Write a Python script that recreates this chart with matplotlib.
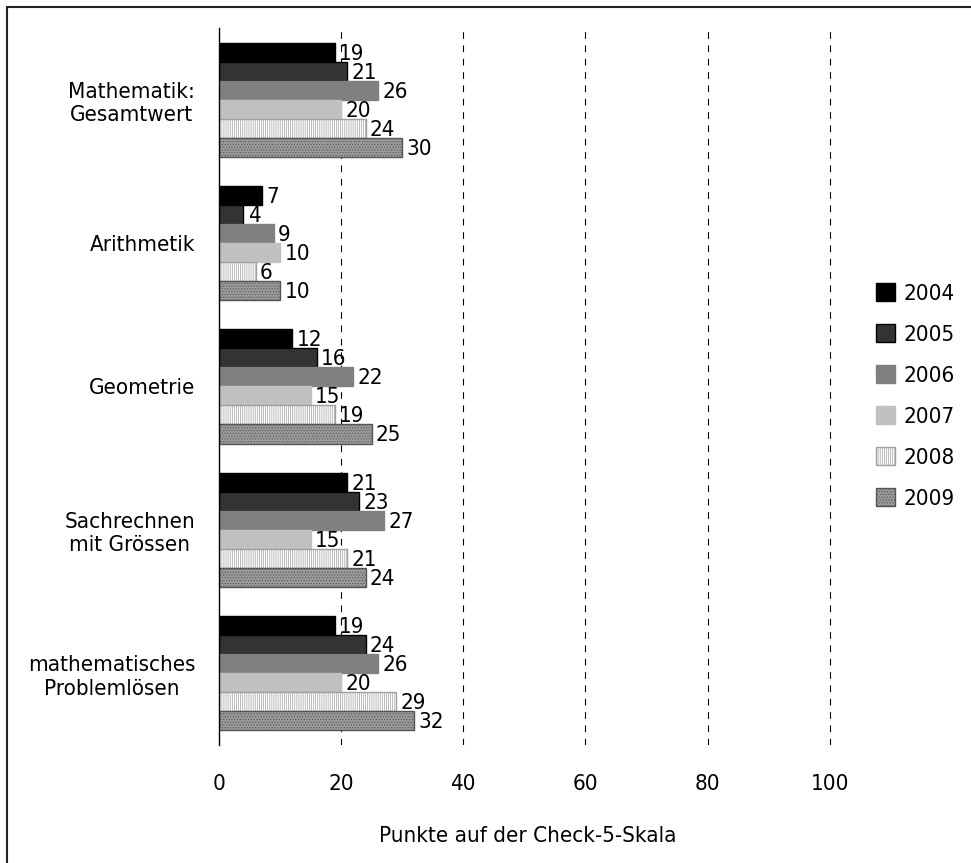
import numpy as np
import matplotlib.pyplot as plt
from matplotlib.patches import Rectangle

plt.rcParams['font.family'] = ['DejaVu Sans']
plt.rcParams['font.stretch'] = 'condensed'
plt.rcParams['hatch.linewidth'] = 0.5

# Punkte je Bereich und Jahr
bereiche = ['Mathematik:\nGesamtwert', 'Arithmetik', 'Geometrie',
            'Sachrechnen\nmit Grössen', 'mathematisches\nProblemlösen']
jahre = ['2004', '2005', '2006', '2007', '2008', '2009']
w2004 = [19, 7, 12, 21, 19]
w2005 = [21, 4, 16, 23, 24]
w2006 = [26, 9, 22, 27, 26]
w2007 = [20, 10, 15, 15, 20]
w2008 = [24, 6, 19, 21, 29]
w2009 = [30, 10, 25, 24, 32]
werte = [w2004, w2005, w2006, w2007, w2008, w2009]

# Füllung, Rand, Schraffur je Jahr
stile = [
    dict(facecolor='black', edgecolor='black', hatch=None),
    dict(facecolor='#333333', edgecolor='black', hatch=None),
    dict(facecolor='#808080', edgecolor='#808080', hatch=None),
    dict(facecolor='#c0c0c0', edgecolor='#c0c0c0', hatch=None),
    dict(facecolor='white', edgecolor='#a0a0a0', hatch='||||||||'),
    dict(facecolor='#9a9a9a', edgecolor='#555555', hatch='......'),
]

fig = plt.figure(figsize=(9.71, 8.63), dpi=100)
ax = fig.add_axes([0.2255, 0.1367, 0.6354, 0.8309])

y = np.arange(len(bereiche))
h = 0.1325
for i, (jahr, w, st) in enumerate(zip(jahre, werte, stile)):
    pos = y + (i - 2.5) * h
    ax.barh(pos, w, height=h, label=jahr, linewidth=1.0, **st)
    for p, v in zip(pos, w):
        ax.text(v + 0.7, p + 0.01, str(v), va='center', ha='left', fontsize=16)

ax.set_xlim(0, 101)
ax.set_ylim(4.5, -0.5)
ax.set_xticks([0, 20, 40, 60, 80, 100])
ax.set_yticks(y)
ax.set_yticklabels(bereiche, fontsize=16, multialignment='center')
ax.tick_params(axis='y', length=0, pad=17)
ax.tick_params(axis='x', length=0, pad=21, labelsize=16)
for x in [20, 40, 60, 80, 100]:
    ax.axvline(x, color='black', linestyle=(0, (6, 6)), linewidth=0.8, zorder=0)
for s in ['top', 'right', 'bottom']:
    ax.spines[s].set_visible(False)
ax.spines['left'].set_linewidth(1.0)
ax.set_xlabel('Punkte auf der Check-5-Skala', fontsize=16, labelpad=23)

fig.legend(loc='upper left', bbox_to_anchor=(0.893, 0.682), frameon=False,
           fontsize=16, handlelength=0.85, handleheight=0.85, handletextpad=0.4,
           labelspacing=0.92, borderaxespad=0)

# Rahmen um die ganze Grafik
fig.patches.append(Rectangle((7 / 971, -0.05), 1.1, 1 - 7 / 863 + 0.05,
                             transform=fig.transFigure, fill=False,
                             edgecolor='#222222', linewidth=1.5))

fig.savefig('out.png', dpi=100)
